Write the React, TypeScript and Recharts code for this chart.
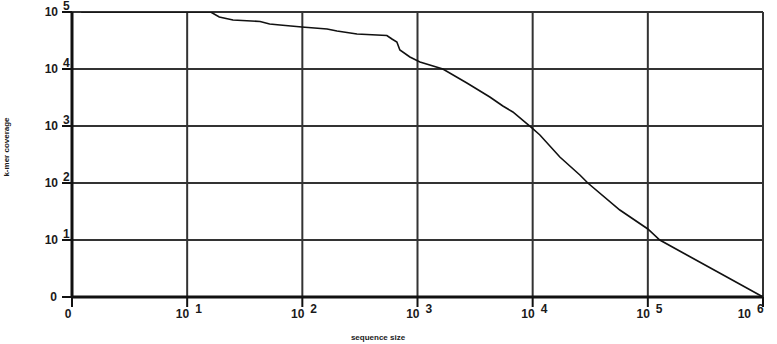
import { CartesianGrid, Label, Line, LineChart, XAxis, YAxis } from "recharts";

// values
const sequenceSize = [
  1.2, 16, 19, 25, 43, 52, 64, 99, 164, 200, 298, 542, 600, 662, 703, 859,
  1050, 1660, 2685, 4246, 5510, 6730, 9840, 11560, 17220, 25700, 30130,
  57150, 100000, 127000, 218300, 485300, 1000000,
];
const kmerCoverage = [
  100000, 100000, 81660, 72440, 68080, 61660, 59160, 54580, 50350, 46450,
  41110, 38730, 33570, 29790, 21530, 16260, 13270, 10000, 5675, 3228, 2244,
  1762, 923, 695, 286, 138, 100, 33.6, 15.6, 10, 5.46, 2.24, 1,
];
const xTicks = [1, 10, 100, 1000, 10000, 100000, 1000000];
const yTicks = [1, 10, 100, 1000, 10000, 100000];

const data = sequenceSize.map((size, i) => ({ size, coverage: kmerCoverage[i] }));

const font = "'Liberation Sans', Arial, sans-serif";
const ink = "#1a1a1a";

const XTick = ({ x, y, payload }: any) => {
  const exp = Math.round(Math.log10(payload.value));
  if (exp === 0) {
    return (
      <text x={x - 4} y={y + 9} textAnchor="middle" fontFamily={font} fontSize={12} fontWeight="bold" fill={ink}>
        0
      </text>
    );
  }
  return (
    <g fontFamily={font} fontSize={12} fontWeight="bold" fill={ink}>
      <text x={x + 2} y={y + 9} textAnchor="end">10</text>
      <text x={x + 8} y={y + 4}>{exp}</text>
    </g>
  );
};

const YTick = ({ x, y, payload }: any) => {
  const exp = Math.round(Math.log10(payload.value));
  if (exp === 0) {
    return (
      <text x={x - 3} y={y + 4} textAnchor="end" fontFamily={font} fontSize={12} fontWeight="bold" fill={ink}>
        0
      </text>
    );
  }
  return (
    <g fontFamily={font} fontSize={12} fontWeight="bold" fill={ink}>
      <text x={x - 2} y={y + 4} textAnchor="end">10</text>
      <text x={x + 3} y={y - 2}>{exp}</text>
    </g>
  );
};

export default function App() {
  return (
    <div style={{ position: "absolute", left: 0, top: 0, background: "#fff" }}>
      <LineChart
        width={777}
        height={344}
        data={data}
        margin={{ top: 12, right: 14, bottom: 17, left: 12 }}
      >
        <CartesianGrid stroke="#333" strokeWidth={2} />
        <XAxis
          dataKey="size"
          type="number"
          scale="log"
          domain={[1, 1000000]}
          ticks={xTicks}
          allowDataOverflow
          height={30}
          tickSize={10}
          axisLine={{ stroke: "#111", strokeWidth: 3 }}
          tickLine={{ stroke: "#111", strokeWidth: 2 }}
          tick={<XTick />}
        >
          <Label
            content={() => (
              <text x={378} y={340} textAnchor="middle" fontFamily={font} fontSize={8} fontWeight="bold" fill={ink}>
                sequence size
              </text>
            )}
          />
        </XAxis>
        <YAxis
          dataKey="coverage"
          type="number"
          scale="log"
          domain={[1, 100000]}
          ticks={yTicks}
          allowDataOverflow
          width={60}
          tickSize={10}
          axisLine={{ stroke: "#111", strokeWidth: 3 }}
          tickLine={{ stroke: "#111", strokeWidth: 2 }}
          tick={<YTick />}
        >
          <Label
            content={() => (
              <text
                x={9}
                y={147}
                transform="rotate(-90 9 147)"
                textAnchor="middle"
                fontFamily={font}
                fontSize={8}
                fontWeight="bold"
                fill={ink}
              >
                k-mer coverage
              </text>
            )}
          />
        </YAxis>
        <Line
          dataKey="coverage"
          type="linear"
          stroke="#111"
          strokeWidth={1.6}
          dot={false}
          isAnimationActive={false}
        />
      </LineChart>
    </div>
  );
}
